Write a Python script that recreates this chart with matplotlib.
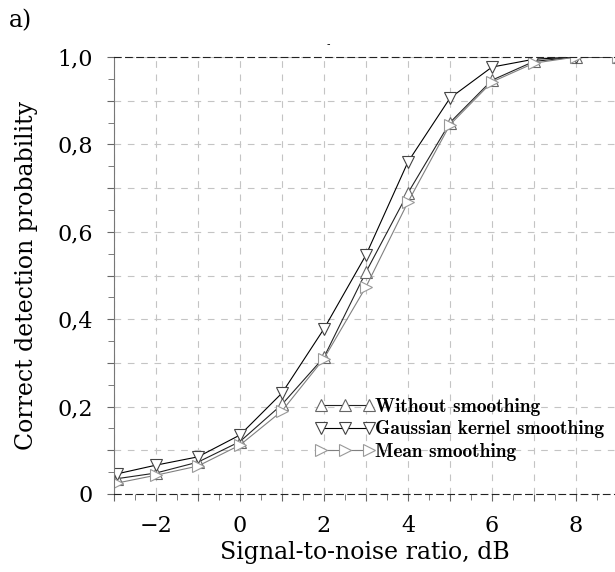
import matplotlib
matplotlib.use('Agg')
import matplotlib.pyplot as plt
from matplotlib.ticker import MultipleLocator, FuncFormatter

# SNR points (dB) and detection probabilities
snr = [-2.93, -2, -1, 0, 1, 2, 3, 4, 5, 6, 7, 8, 9]
p_without = [0.035, 0.048, 0.073, 0.120, 0.205, 0.313, 0.508, 0.689, 0.850, 0.947, 0.990, 1.0, 1.0]
p_gauss = [0.046, 0.066, 0.085, 0.135, 0.231, 0.378, 0.547, 0.760, 0.906, 0.977, 0.995, 1.0, 1.0]
p_mean = [0.025, 0.043, 0.064, 0.112, 0.190, 0.310, 0.474, 0.668, 0.845, 0.943, 0.986, 1.0, 1.0]

labels = ['Without smoothing', 'Gaussian kernel smoothing', 'Mean smoothing']

serif = 'DejaVu Serif'

fig = plt.figure(figsize=(6.15, 5.72), dpi=100)
ax = fig.add_axes([0.1854, 0.1364, 0.8146, 0.7639])

ax.plot(snr, p_without, color='#222222', lw=0.8, marker='^', ms=9,
        mfc='white', mec='#666666', mew=0.8, label=labels[0])
ax.plot(snr, p_gauss, color='#000000', lw=0.8, marker='v', ms=9,
        mfc='white', mec='#444444', mew=0.8, label=labels[1])
ax.plot(snr, p_mean, color='#808080', lw=0.8, marker='>', ms=9,
        mfc='white', mec='#999999', mew=0.8, label=labels[2])

ax.set_xlim(-3.0, 8.93)
ax.set_ylim(0, 1.0)

ax.xaxis.set_major_locator(MultipleLocator(1))
ax.xaxis.set_minor_locator(MultipleLocator(0.5))
ax.yaxis.set_major_locator(MultipleLocator(0.1))
ax.yaxis.set_minor_locator(MultipleLocator(0.05))


def xfmt(v, pos):
    n = int(round(v))
    if n % 2:
        return ''
    return str(n).replace('-', '\u2212')


def yfmt(v, pos):
    n = int(round(v * 10))
    if n % 2:
        return ''
    if n == 0:
        return '0'
    return ('%.1f' % v).replace('.', ',')


ax.xaxis.set_major_formatter(FuncFormatter(xfmt))
ax.yaxis.set_major_formatter(FuncFormatter(yfmt))

ax.grid(True, which='major', color='#c4c4c4', linestyle=(0, (6, 6)), lw=0.8)
ax.tick_params(which='both', direction='out', color='#666666', labelsize=16)
ax.tick_params(which='major', length=5)
ax.tick_params(which='minor', length=4)
ax.tick_params(axis='x', pad=10)
ax.tick_params(axis='y', pad=10)
for lab in ax.get_xticklabels() + ax.get_yticklabels():
    lab.set_fontfamily(serif)

ax.spines['right'].set_visible(False)
ax.spines['left'].set_color('#777777')
ax.spines['top'].set_linestyle((0, (6, 4)))
ax.spines['top'].set_color('#222222')
ax.spines['bottom'].set_linestyle((0, (6, 4)))
ax.spines['bottom'].set_color('#222222')

ax.set_xlabel('Signal-to-noise ratio, dB', fontsize=17, family=serif, labelpad=3)
ax.set_ylabel('Correct detection probability', fontsize=17, family=serif, labelpad=14)

ax.text(2.1, 1.018, '-', fontsize=7, ha='center', va='bottom')
fig.text(0.015, 0.963, 'a)', fontsize=17, family=serif, va='center')

ax.legend(loc='upper left', bbox_to_anchor=(0.512, 0.304), bbox_transform=fig.transFigure,
          frameon=False, numpoints=3, handlelength=3.1, handletextpad=0.0,
          labelspacing=0.22, borderaxespad=0, borderpad=0, markerscale=0.9,
          prop={'family': 'cmb10', 'size': 14})

fig.savefig('out.png', dpi=100)
